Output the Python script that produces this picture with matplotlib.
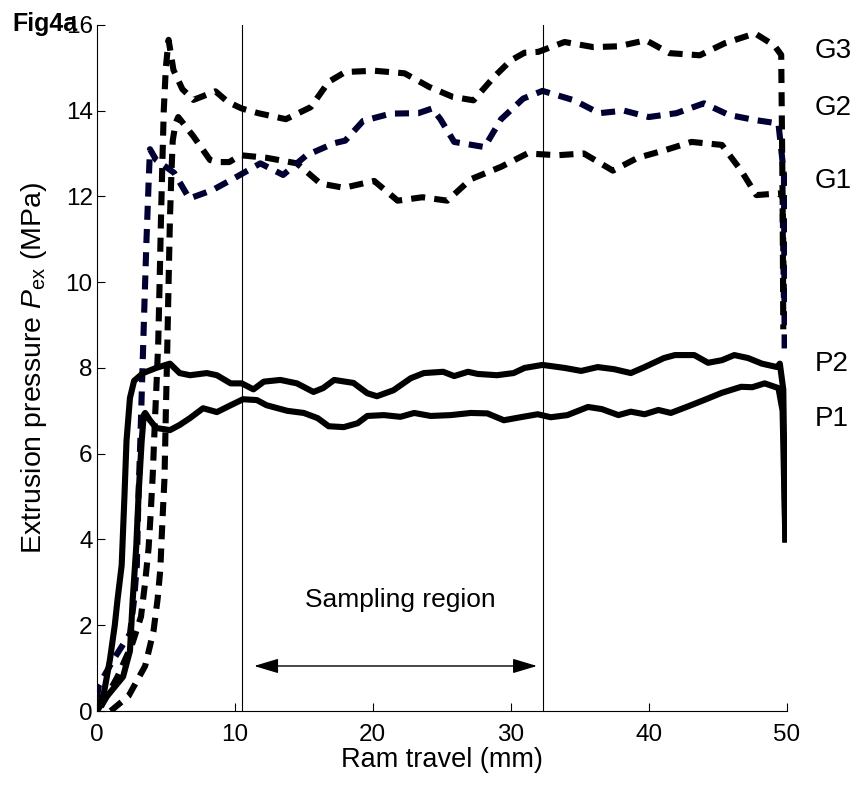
import numpy as np
import matplotlib
matplotlib.use('Agg')
import matplotlib.pyplot as plt

plt.rcParams['font.family'] = ['Liberation Sans', 'DejaVu Sans']
plt.rcParams['mathtext.fontset'] = 'custom'
plt.rcParams['mathtext.rm'] = 'Liberation Sans'
plt.rcParams['mathtext.it'] = 'Liberation Sans:italic'

# %%
# curves (ram travel mm, pressure MPa)
g3_x = [0.3, 1.5, 2.6, 3.2, 3.5, 3.75, 3.9, 4.05, 4.2, 4.35, 4.45, 4.55, 4.65, 4.75, 4.85, 5.0,
        5.2, 5.55, 6.2, 7.0, 7.8, 8.6, 9.5, 10.5, 11.7, 13.7, 15.5, 16.8, 18.0, 20.1, 22.3, 24.1,
        25.8, 27.3, 28.8, 30.0, 31.0, 32.0, 33.9, 36.0, 37.8, 39.8, 41.5, 43.7, 45.5, 47.7, 49.1,
        49.6, 49.7, 49.75]
g3_y = [0.1, 0.8, 1.6, 2.2, 3.0, 3.8, 4.6, 5.5, 6.7, 7.8, 8.6, 10.0, 11.5, 12.8, 14.0, 15.0,
        15.65, 14.95, 14.5, 14.25, 14.35, 14.45, 14.2, 14.05, 13.94, 13.8, 14.08, 14.67, 14.9,
        14.93, 14.87, 14.55, 14.32, 14.24, 14.79, 15.17, 15.35, 15.37, 15.6, 15.48, 15.5, 15.64,
        15.34, 15.29, 15.57, 15.8, 15.52, 15.3, 12.0, 8.9]

g2_x = [0.0, 0.15, 1.2, 2.4, 2.7, 2.9, 3.0, 3.15, 3.3, 3.45, 3.6, 3.75, 3.85, 4.3, 5.6, 6.7,
        8.4, 10.1, 11.85, 13.5, 15.2, 17.2, 18.0, 19.3, 21.3, 23.3, 24.3, 24.9, 25.9, 28.1, 29.3,
        30.9, 32.3, 34.6, 36.4, 38.2, 40.0, 42.0, 44.0, 45.8, 47.7, 49.4, 49.8, 49.85]
g2_y = [0.3, 0.6, 1.2, 1.8, 2.6, 3.4, 4.8, 6.3, 7.9, 9.5, 11.0, 12.3, 13.1, 12.85, 12.55, 11.95,
        12.15, 12.45, 12.77, 12.5, 12.96, 13.24, 13.3, 13.76, 13.93, 13.94, 14.05, 13.8, 13.27,
        13.15, 13.8, 14.28, 14.46, 14.24, 13.94, 14.0, 13.85, 13.94, 14.17, 13.9, 13.78, 13.7,
        12.5, 8.3]

g1_x = [1.0, 2.3, 3.5, 4.1, 4.4, 4.6, 4.7, 4.8, 4.9, 4.95, 5.0, 5.05, 5.1, 5.2, 5.3, 5.4, 5.5,
        5.7, 5.9, 7.0, 8.2, 8.7, 9.6, 10.4, 12.3, 14.5, 16.2, 17.9, 20.1, 21.8, 23.6, 25.4, 27.1,
        29.3, 31.2, 33.4, 35.3, 37.4, 39.2, 41.1, 43.1, 45.3, 46.7, 47.8, 49.4, 49.7, 49.8]
g1_y = [0.0, 0.35, 1.05, 1.85, 2.6, 3.3, 4.05, 4.75, 5.4, 6.15, 6.95, 7.65, 8.4, 10.0, 11.5,
        12.5, 13.3, 13.7, 13.85, 13.4, 12.85, 12.8, 12.8, 12.96, 12.9, 12.77, 12.3, 12.2, 12.36,
        11.9, 11.98, 11.9, 12.4, 12.69, 13.0, 12.96, 13.0, 12.6, 12.9, 13.07, 13.27, 13.2, 12.6,
        12.03, 12.07, 12.0, 9.5]

p2_x = [0.0, 0.5, 0.95, 1.3, 1.5, 1.8, 2.0, 2.15, 2.4, 2.7, 3.35, 4.3, 5.3, 6.0, 6.75, 7.97,
        8.7, 9.7, 10.5, 11.35, 12.1, 13.3, 14.5, 15.7, 16.4, 17.2, 18.6, 19.6, 20.3, 21.5, 22.75,
        23.7, 25.1, 25.9, 26.9, 27.6, 29.0, 30.2, 31.0, 32.3, 33.9, 35.1, 36.3, 37.5, 38.7, 39.7,
        41.1, 41.9, 43.3, 44.3, 45.3, 46.2, 47.2, 48.2, 49.3, 49.5, 49.75, 49.9]
p2_y = [0.05, 0.4, 1.2, 2.0, 2.6, 3.4, 5.0, 6.3, 7.3, 7.7, 7.88, 8.0, 8.1, 7.88, 7.83, 7.88,
        7.83, 7.64, 7.64, 7.5, 7.68, 7.72, 7.64, 7.44, 7.53, 7.72, 7.65, 7.41, 7.34, 7.48, 7.76,
        7.88, 7.91, 7.81, 7.91, 7.86, 7.83, 7.88, 8.0, 8.07, 8.0, 7.93, 8.02, 7.97, 7.88, 8.02,
        8.23, 8.3, 8.3, 8.12, 8.18, 8.3, 8.23, 8.1, 8.02, 8.1, 7.5, 4.0]

p1_x = [0.0, 0.7, 1.9, 2.4, 2.6, 2.85, 3.05, 3.25, 3.4, 3.5, 3.85, 4.3, 5.3, 6.0, 6.75, 7.7,
        8.7, 9.7, 10.6, 11.6, 12.3, 13.8, 15.0, 16.0, 16.8, 17.9, 18.9, 19.6, 20.8, 22.0, 23.0,
        24.2, 25.65, 27.1, 28.3, 29.5, 30.7, 31.95, 32.9, 34.1, 35.6, 36.6, 37.8, 38.7, 39.7,
        40.7, 41.6, 42.9, 44.0, 45.3, 46.7, 47.5, 48.4, 49.4, 49.7, 49.9]
p1_y = [0.0, 0.33, 0.8, 1.4, 2.6, 3.8, 5.2, 6.3, 6.9, 6.95, 6.78, 6.6, 6.55, 6.67, 6.83, 7.06,
        6.97, 7.13, 7.27, 7.25, 7.13, 7.0, 6.95, 6.83, 6.64, 6.62, 6.71, 6.88, 6.9, 6.86, 6.95,
        6.88, 6.9, 6.95, 6.94, 6.78, 6.85, 6.92, 6.85, 6.9, 7.09, 7.04, 6.9, 6.98, 6.92, 7.02,
        6.95, 7.11, 7.25, 7.42, 7.56, 7.55, 7.64, 7.53, 7.0, 4.0]

region = [10.55, 32.3]
labels = ['G3', 'G2', 'G1', 'P2', 'P1']
label_y = [15.4, 14.05, 12.35, 8.1, 6.8]

# %%
fig = plt.figure(figsize=(8.57, 7.86), dpi=100)
ax = fig.add_axes([0.113, 0.0954, 0.805, 0.873])

dash = (0, (2.3, 1.5))
navy = '#000033'
ax.plot(g1_x, g1_y, color='black', lw=4.4, ls=dash, dash_capstyle='butt')
ax.plot(g2_x, g2_y, color=navy, lw=4.4, ls=dash, dash_capstyle='butt')
ax.plot(g3_x, g3_y, color='black', lw=4.4, ls=dash, dash_capstyle='butt')
ax.plot(p1_x, p1_y, color='black', lw=4.4, solid_joinstyle='round')
ax.plot(p2_x, p2_y, color='black', lw=4.4, solid_joinstyle='round')

for xv in region:
    ax.axvline(xv, color='black', lw=0.8)

ax.annotate('', xy=(11.4, 1.05), xytext=(31.9, 1.05),
            arrowprops=dict(arrowstyle='<|-|>,head_length=1.5,head_width=0.45',
                            color='black', lw=1.0, shrinkA=0, shrinkB=0))
ax.text(22.0, 2.6, 'Sampling region', ha='center', va='center', fontsize=19)

for lab, yv in zip(labels, label_y):
    ax.text(52.0, yv, lab, ha='left', va='center', fontsize=20, clip_on=False)

ax.set_xlim(0, 50)
ax.set_ylim(0, 16)
ax.set_xticks([0, 10, 20, 30, 40, 50])
ax.set_yticks([0, 2, 4, 6, 8, 10, 12, 14, 16])
ax.tick_params(direction='in', labelsize=17.5, length=6, width=0.8)
ax.tick_params(axis='x', pad=9)
ax.tick_params(axis='y', pad=3)
ax.spines['top'].set_visible(False)
ax.spines['right'].set_visible(False)
ax.set_xlabel('Ram travel (mm)', fontsize=19.5, labelpad=1)
ax.set_ylabel(r'Extrusion pressure $P_{\rm ex}$ (MPa)', fontsize=20.5, labelpad=12)

fig.text(0.015, 0.985, 'Fig4a', fontsize=18, fontweight='bold', va='top', ha='left')

fig.savefig('out.png', dpi=100)
